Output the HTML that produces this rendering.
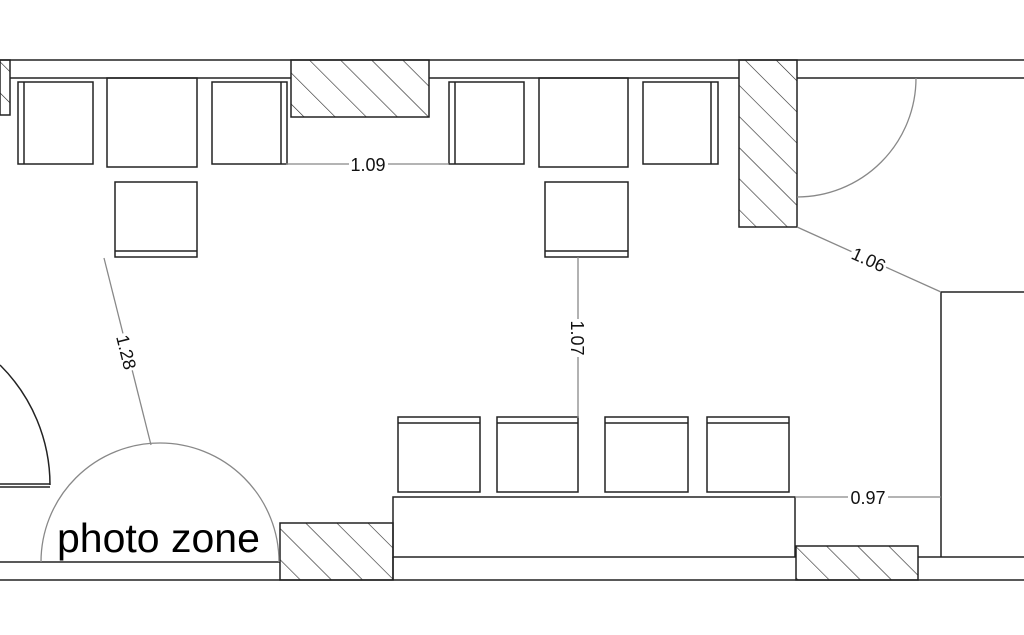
<!DOCTYPE html>
<html><head><style>body{margin:0;background:#fff}svg{display:block}</style></head><body>
<svg width="1024" height="635" viewBox="0 0 1024 635" xmlns="http://www.w3.org/2000/svg" font-family="Liberation Sans, sans-serif">
<defs>
<pattern id="h" patternUnits="userSpaceOnUse" width="22" height="22" patternTransform="rotate(-45)">
<line x1="0" y1="0" x2="0" y2="22" stroke="#222" stroke-width="1.2"/>
</pattern>
</defs>
<g fill="none" stroke="#222" stroke-width="1.5">
<line x1="0" y1="60" x2="1024" y2="60"/>
<line x1="10" y1="78" x2="291" y2="78"/>
<line x1="429" y1="78" x2="739" y2="78"/>
<line x1="797" y1="78" x2="1024" y2="78"/>
<rect x="0" y="60" width="10" height="55" fill="url(#h)"/>
<rect x="291" y="60" width="138" height="57" fill="url(#h)"/>
<rect x="739" y="60" width="58" height="167" fill="url(#h)"/>
<rect x="18" y="82" width="75" height="82"/><line x1="24" y1="82" x2="24" y2="164"/>
<rect x="107" y="78" width="90" height="89"/>
<rect x="212" y="82" width="75" height="82"/><line x1="281" y1="82" x2="281" y2="164"/>
<rect x="449" y="82" width="75" height="82"/><line x1="455" y1="82" x2="455" y2="164"/>
<rect x="539" y="78" width="89" height="89"/>
<rect x="643" y="82" width="75" height="82"/><line x1="711" y1="82" x2="711" y2="164"/>
<rect x="115" y="182" width="82" height="75"/><line x1="115" y1="251" x2="197" y2="251"/>
<rect x="545" y="182" width="83" height="75"/><line x1="545" y1="251" x2="628" y2="251"/>
<line x1="941" y1="292" x2="1024" y2="292"/>
<line x1="941" y1="292" x2="941" y2="557"/>
<line x1="0" y1="580" x2="1024" y2="580"/>
<line x1="0" y1="562" x2="280" y2="562"/>
<rect x="280" y="523" width="113" height="57" fill="url(#h)"/>
<rect x="393" y="497" width="402" height="60"/>
<line x1="393" y1="557" x2="393" y2="580"/>
<rect x="796" y="546" width="122" height="34" fill="url(#h)"/>
<line x1="918" y1="557" x2="1024" y2="557"/>
<rect x="398" y="417" width="82" height="75"/><line x1="398" y1="423" x2="480" y2="423"/>
<rect x="497" y="417" width="81" height="75"/><line x1="497" y1="423" x2="578" y2="423"/>
<rect x="605" y="417" width="83" height="75"/><line x1="605" y1="423" x2="688" y2="423"/>
<rect x="707" y="417" width="82" height="75"/><line x1="707" y1="423" x2="789" y2="423"/>
<path d="M0 365 A169 169 0 0 1 50 485"/>
<line x1="0" y1="484" x2="50" y2="484"/><line x1="0" y1="487" x2="50" y2="487"/>
</g>
<g fill="none" stroke="#888" stroke-width="1.3">
<path d="M916 78 A119 119 0 0 1 797 197"/>
<path d="M41 562 A119 119 0 0 1 279 562"/>
<line x1="286" y1="164" x2="449" y2="164"/>
<line x1="578" y1="257" x2="578" y2="418"/>
<line x1="797" y1="227" x2="941" y2="292"/>
<line x1="104" y1="258" x2="151" y2="445"/>
<line x1="795" y1="497" x2="941" y2="497"/>
</g>
<g font-size="18" fill="#111" text-anchor="middle">
<rect x="349" y="154" width="39" height="18" fill="#fff"/>
<text x="368" y="171">1.09</text>
<rect x="848" y="487" width="40" height="18" fill="#fff"/>
<text x="868" y="504">0.97</text>
<g transform="translate(578,338) rotate(90)"><rect x="-19" y="-10" width="38" height="18" fill="#fff"/><text x="0" y="7">1.07</text></g>
<g transform="translate(869,259) rotate(24.3)"><rect x="-19" y="-10" width="38" height="18" fill="#fff"/><text x="0" y="7">1.06</text></g>
<g transform="translate(127,352) rotate(76)"><rect x="-19" y="-10" width="38" height="18" fill="#fff"/><text x="0" y="7">1.28</text></g>
</g>
<text x="57" y="552" font-size="41" fill="#000">photo zone</text>
</svg>
</body></html>
